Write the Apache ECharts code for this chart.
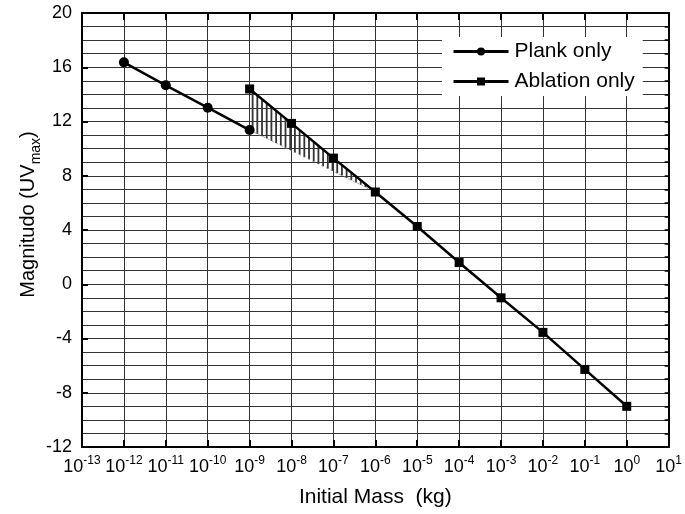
<!DOCTYPE html>
<html><head><meta charset="utf-8">
<script src="https://cdn.jsdelivr.net/npm/echarts@6/dist/echarts.min.js"></script>
<style>html,body{margin:0;padding:0;background:#fff}#c{width:685px;height:514px}</style>
</head><body><div id="c"></div>
<script>
// Data
const plankMass = [1e-12, 1e-11, 1e-10, 1e-9];
const plankMag = [16.36, 14.67, 13.02, 11.37];
const ablationMass = [1e-9, 1e-8, 1e-7, 1e-6, 1e-5, 1e-4, 1e-3, 1e-2, 1e-1, 1e0];
const ablationMag = [14.4, 11.86, 9.3, 6.8, 4.26, 1.6, -1.0, -3.55, -6.28, -9.0];
const xTickExponents = [-13, -12, -11, -10, -9, -8, -7, -6, -5, -4, -3, -2, -1, 0, 1];
const yTicks = [-12, -8, -4, 0, 4, 8, 12, 16, 20];
const hatchUpperCount = 4; // ablation points 1e-9..1e-6 bound the hatched band

const lg = v => Math.log10(v);
const plankData = plankMass.map((m, i) => [lg(m), plankMag[i]]);
const ablData = ablationMass.map((m, i) => [lg(m), ablationMag[i]]);

const FONT = 'Liberation Sans, Arial, sans-serif';
const chart = echarts.init(document.getElementById('c'), null, {renderer: 'canvas'});

const upper = ablData.slice(0, hatchUpperCount);
const lowerStart = plankData[plankData.length - 1];
const lowerEnd = upper[upper.length - 1];

const option = {
  animation: false,
  backgroundColor: '#fff',
  textStyle: {fontFamily: FONT},
  grid: {left: 82, right: 12, top: 13, bottom: 67, containLabel: false},
  legend: {
    left: 442, top: 37,
    orient: 'vertical',
    backgroundColor: '#fff',
    padding: [4, 8, 4, 10],
    itemWidth: 55, itemHeight: 10, itemGap: 9,
    textStyle: {fontSize: 21, color: '#000', fontFamily: FONT, padding: [0, 0, 0, 1]},
    lineStyle: {width: 3},
    data: ['Plank only', 'Ablation only']
  },
  xAxis: [{
    type: 'value', min: -13, max: 1, interval: 1,
    name: 'Initial Mass  (kg)', nameLocation: 'middle', nameGap: 40,
    nameTextStyle: {fontSize: 21, color: '#000', fontFamily: FONT},
    axisLine: {show: true, onZero: false, lineStyle: {color: '#000', width: 2}},
    axisTick: {show: true, inside: true, length: 7, lineStyle: {color: '#000', width: 2}},
    axisLabel: {
      margin: 8, color: '#000', fontSize: 18, fontFamily: FONT,
      formatter: v => xTickExponents.indexOf(v) >= 0 ? '10{sup|' + v + '}' : '',
      rich: {sup: {fontSize: 12, fontFamily: FONT, color: '#000', padding: [0, 0, 13, 0]}}
    },
    splitLine: {show: true, lineStyle: {color: '#333', width: 1}}
  }, {
    type: 'value', min: -13, max: 1, interval: 1, position: 'top',
    axisLine: {show: true, onZero: false, lineStyle: {color: '#000', width: 2}},
    axisTick: {show: true, inside: true, length: 7, lineStyle: {color: '#000', width: 2}},
    axisLabel: {show: false}, splitLine: {show: false}
  }],
  yAxis: [{
    type: 'value', min: -12, max: 20, interval: 4,
    name: 'Magnitudo (UV{sub|max})', nameLocation: 'middle', nameGap: 39, nameRotate: 90,
    nameMoveOverlap: false,
    nameTextStyle: {fontSize: 20, color: '#000', fontFamily: FONT, padding: [0, 0, 0, 31],
      rich: {sub: {fontSize: 14, fontFamily: FONT, color: '#000', padding: [16, 0, 0, 0]}}},
    axisLine: {show: true, onZero: false, lineStyle: {color: '#000', width: 2}},
    axisTick: {show: true, inside: true, length: 6, lineStyle: {color: '#000', width: 2}},
    minorTick: {show: false, splitNumber: 4},
    axisLabel: {margin: 10, color: '#000', fontSize: 18, fontFamily: FONT,
      formatter: v => yTicks.indexOf(v) >= 0 ? String(v) : ''},
    splitLine: {show: true, lineStyle: {color: '#333', width: 1}},
    minorSplitLine: {show: true, lineStyle: {color: '#333', width: 1}}
  }, {
    type: 'value', min: -12, max: 20, interval: 1, position: 'right',
    axisLine: {show: true, onZero: false, lineStyle: {color: '#000', width: 2}},
    axisTick: {show: true, inside: true, length: 4, lineStyle: {color: '#000', width: 1.5}},
    axisLabel: {show: false}, splitLine: {show: false}
  }],
  series: [
    {
      type: 'custom', name: 'hatch', silent: true, z: 3,
      data: [[0, 0]],
      renderItem: (params, api) => {
        const up = upper.map(p => api.coord(p));
        const lo0 = api.coord(lowerStart), lo1 = api.coord(lowerEnd);
        const children = [];
        const step = 4.7;
        for (let x = up[0][0] + 3; x < lo1[0] - 2; x += step) {
          let yu = up[0][1];
          for (let k = 0; k < up.length - 1; k++) {
            if (x >= up[k][0] && x <= up[k + 1][0]) {
              const t = (x - up[k][0]) / (up[k + 1][0] - up[k][0]);
              yu = up[k][1] + t * (up[k + 1][1] - up[k][1]);
            }
          }
          const tl = (x - lo0[0]) / (lo1[0] - lo0[0]);
          const yl = lo0[1] + tl * (lo1[1] - lo0[1]);
          children.push({type: 'line', shape: {x1: x, y1: yu, x2: x, y2: yl},
            style: {stroke: '#333', lineWidth: 1.8}});
        }
        children.push({type: 'line', shape: {x1: lo0[0], y1: lo0[1], x2: lo1[0], y2: lo1[1]},
          style: {stroke: '#888', lineWidth: 0.8, lineDash: [2, 3]}});
        return {type: 'group', children};
      }
    },
    {
      name: 'Plank only', type: 'line', data: plankData, z: 5,
      symbol: 'circle', symbolSize: 10,
      lineStyle: {color: '#000', width: 2.5},
      itemStyle: {color: '#000'}
    },
    {
      name: 'Ablation only', type: 'line', data: ablData, z: 5,
      symbol: 'rect', symbolSize: 9,
      lineStyle: {color: '#000', width: 2.5},
      itemStyle: {color: '#000'}
    }
  ]
};
chart.setOption(option);
</script>
</body></html>
